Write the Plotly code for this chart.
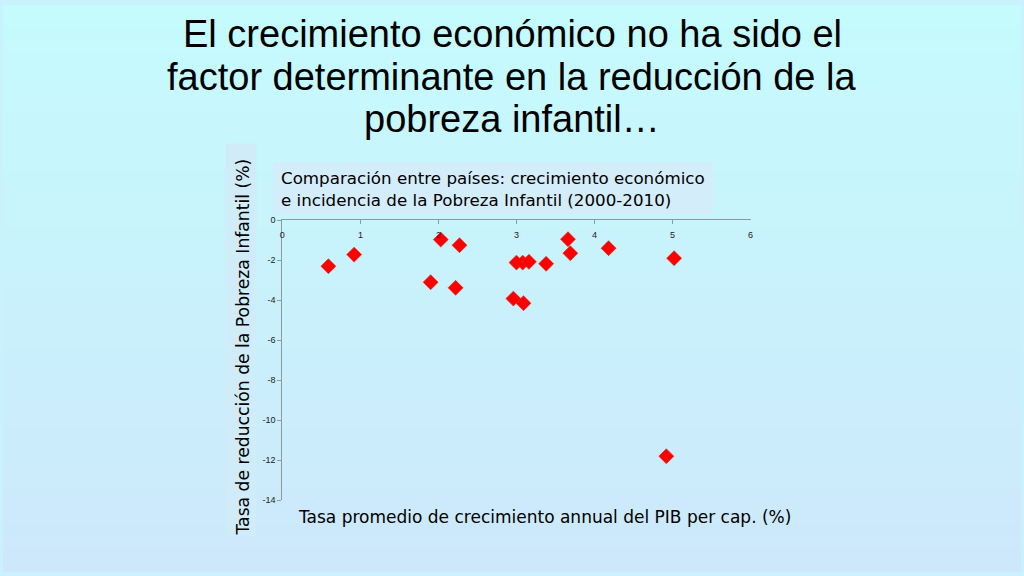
import plotly.graph_objects as go

# crecimiento del PIB per cápita (%) vs. tasa de reducción de la pobreza infantil (%)
pib_growth = [0.59, 0.92, 1.90, 2.03, 2.22, 2.27, 2.96, 3.00, 3.08, 3.09,
              3.16, 3.38, 3.66, 3.69, 4.18, 4.92, 5.02]
pov_change = [-2.30, -1.72, -3.10, -0.97, -3.38, -1.25, -3.92, -2.12, -2.12, -4.15,
              -2.08, -2.18, -0.95, -1.65, -1.40, -11.80, -1.90]

x_ticks = [0, 1, 2, 3, 4, 5, 6]
y_ticks = [0, -2, -4, -6, -8, -10, -12, -14]

title_lines = [
    "El crecimiento económico no ha sido el",
    "factor determinante en la reducción de la",
    "pobreza infantil…",
]
box_title = "Comparación entre países: crecimiento económico<br>e incidencia de la Pobreza Infantil (2000-2010)"
x_title = "Tasa promedio de crecimiento annual del PIB per cap. (%)"
y_title = "Tasa de reducción de la Pobreza Infantil (%)"

W, H = 1024, 576


def px(x):
    return x / W


def py(y):
    return 1 - y / H


fig = go.Figure()
fig.add_trace(go.Scatter(
    x=pib_growth, y=pov_change, mode="markers",
    marker=dict(symbol="diamond", size=11.5, color="rgb(255,0,0)",
                line=dict(color="rgb(215,40,30)", width=0.6)),
    showlegend=False, hoverinfo="x+y",
))

# slide background: vertical gradient from cyan to light blue
shapes = []
top_c = (197, 251, 253)
bot_c = (205, 232, 251)
n = 48
for i in range(n):
    t = i / (n - 1)
    c = tuple(round(top_c[k] + (bot_c[k] - top_c[k]) * t) for k in range(3))
    shapes.append(dict(type="rect", xref="paper", yref="paper", layer="below",
                       x0=0, x1=1, y0=1 - i / n, y1=1 - (i + 1) / n - 0.002,
                       line=dict(width=0), fillcolor="rgb(%d,%d,%d)" % c))
# boxes behind the axis title and the chart title
shapes.append(dict(type="rect", xref="paper", yref="paper", layer="below",
                   x0=px(224), x1=px(255), y0=py(540), y1=py(141),
                   line=dict(width=0), fillcolor="rgb(208,236,248)"))
shapes.append(dict(type="rect", xref="paper", yref="paper", layer="below",
                   x0=px(272), x1=px(714), y0=py(213), y1=py(160),
                   line=dict(width=0), fillcolor="rgb(212,237,250)"))

annotations = []
for line, yc in zip(title_lines, [30, 73, 116]):
    annotations.append(dict(text=line, x=0.5, y=py(yc), xref="paper", yref="paper",
                            xanchor="center", yanchor="middle", showarrow=False,
                            font=dict(family="Liberation Sans, Arial", size=38, color="black")))
annotations.append(dict(text=box_title, x=px(278), y=py(187), xref="paper", yref="paper",
                        xanchor="left", yanchor="middle", align="left", showarrow=False,
                        font=dict(family="DejaVu Sans", size=16.7, color="black")))
annotations.append(dict(text=x_title, x=px(545), y=py(521), xref="paper", yref="paper",
                        xanchor="center", yanchor="middle", showarrow=False,
                        font=dict(family="DejaVu Sans", size=17, color="black")))
annotations.append(dict(text=y_title, x=px(241), y=py(348), xref="paper", yref="paper",
                        xanchor="center", yanchor="middle", textangle=-90, showarrow=False,
                        font=dict(family="DejaVu Sans", size=17.2, color="black")))

fig.update_layout(
    width=W, height=H,
    margin=dict(l=0, r=0, t=0, b=0),
    paper_bgcolor="rgb(202,242,252)",
    plot_bgcolor="rgba(0,0,0,0)",
    shapes=shapes,
    annotations=annotations,
    xaxis=dict(domain=[px(281), px(752)], range=[0, 6], side="top",
               tickvals=x_ticks, ticks="inside", ticklen=4, tickcolor="#8a9aa0",
               ticklabelposition="outside", ticklabelstandoff=-22,
               showgrid=False, zeroline=False,
               showline=True, linecolor="#8a9aa0", linewidth=1,
               tickfont=dict(family="Liberation Sans, Arial", size=9, color="#222")),
    yaxis=dict(domain=[py(504), py(219)], range=[-14, 0],
               tickvals=y_ticks, ticktext=[str(v) for v in y_ticks],
               ticks="outside", ticklen=4, tickcolor="#8a9aa0",
               showgrid=False, zeroline=False,
               showline=True, linecolor="#8a9aa0", linewidth=1,
               tickfont=dict(family="Liberation Sans, Arial", size=9, color="#222")),
)

fig.write_html("out.html", config={"displayModeBar": False},
               post_script="document.body.style.margin='0';")
